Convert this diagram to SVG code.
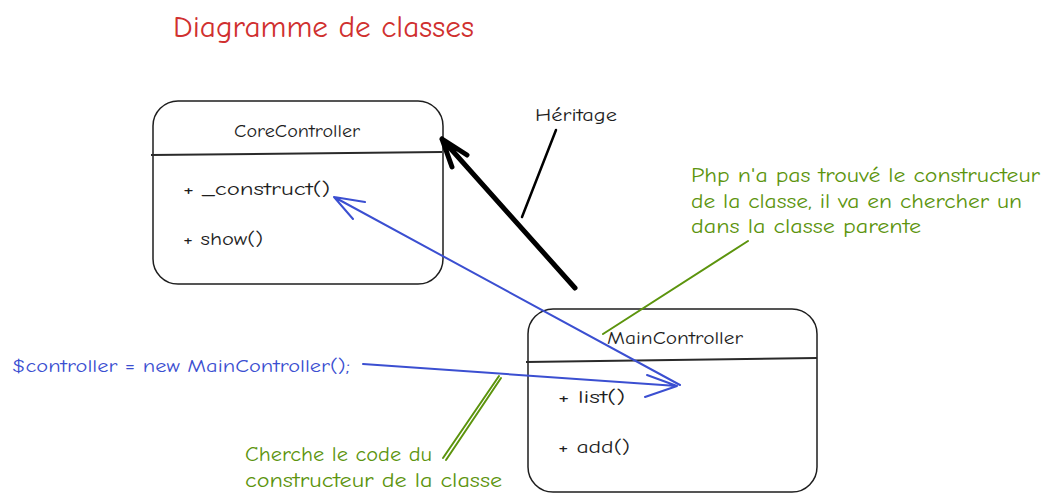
<svg xmlns="http://www.w3.org/2000/svg" width="1052" height="501" viewBox="0 0 1052 501">
<style>
.box{fill:#fff;stroke:#1e1e1e;stroke-width:1.5}
.div{stroke:#2a2a2a;stroke-width:2}
.t{font-family:"Comic Neue","Liberation Sans",sans-serif;fill:#1e1e1e;font-size:19px}
.blue{fill:#3b4fd1}
.green{fill:#5c940d;font-size:20px}
.red{fill:#d0302f;font-size:30px}
.lb{stroke:#3b4fd1;stroke-width:2;fill:none;stroke-linecap:round}
.lg{stroke:#5c940d;stroke-width:2;fill:none;stroke-linecap:round}
.lk{stroke:#000;fill:none;stroke-linecap:round;stroke-linejoin:round}
</style>
<rect width="1052" height="501" fill="#fff"/>
<text class="t red" x="173" y="37" textLength="301" lengthAdjust="spacingAndGlyphs">Diagramme de classes</text>
<g id="CoreController">
<rect class="box" x="153" y="101" width="290" height="183" rx="25"/>
<line class="div" x1="151" y1="155" x2="442" y2="152"/>
<text class="t" x="234" y="137" textLength="126" lengthAdjust="spacingAndGlyphs">CoreController</text>
<text class="t" x="183" y="195" textLength="147" lengthAdjust="spacingAndGlyphs">+ _construct()</text>
<text class="t" x="183" y="245" textLength="80" lengthAdjust="spacingAndGlyphs">+ show()</text>
</g>
<g id="MainController">
<rect class="box" x="528" y="309" width="289" height="183" rx="25"/>
<line class="div" x1="526" y1="362" x2="817" y2="358"/>
<text class="t" x="607" y="344" textLength="136" lengthAdjust="spacingAndGlyphs">MainController</text>
<text class="t" x="558" y="403" textLength="67" lengthAdjust="spacingAndGlyphs">+ list()</text>
<text class="t" x="558" y="453" textLength="72" lengthAdjust="spacingAndGlyphs">+ add()</text>
</g>
<g id="heritage-label">
<text class="t" x="535" y="121" textLength="82" lengthAdjust="spacingAndGlyphs">Héritage</text>
</g>
<g id="code-label">
<text class="t blue" x="12" y="372" font-size="20" textLength="338" lengthAdjust="spacingAndGlyphs">$controller = new MainController();</text>
</g>
<g id="note-php">
<text class="t green" x="691" y="182" textLength="349" lengthAdjust="spacingAndGlyphs">Php n'a pas trouvé le constructeur</text>
<text class="t green" x="691" y="208" textLength="331" lengthAdjust="spacingAndGlyphs">de la classe, il va en chercher un</text>
<text class="t green" x="691" y="233" textLength="230" lengthAdjust="spacingAndGlyphs">dans la classe parente</text>
</g>
<g id="note-cherche">
<text class="t green" x="245" y="461" textLength="187" lengthAdjust="spacingAndGlyphs">Cherche le code du</text>
<text class="t green" x="245" y="487" textLength="257" lengthAdjust="spacingAndGlyphs">constructeur de la classe</text>
</g>
<g id="connectors">
<path class="lk" stroke-width="5" d="M575 288 L442 139 M442 139 L467 155 M442 139 L452 167"/>
<path class="lk" stroke-width="2.5" d="M522 217 L556 130"/>
<path class="lb" d="M680 385 L334 197 M334 197 L365 202 M334 197 L353 219"/>
<path class="lb" d="M363 364 L677 386 M677 386 L647 375 M677 386 L645 397"/>
<path class="lg" d="M603 334 L748 241"/>
<path class="lg" d="M443 458 L499 376 M446 460 L501 378" stroke-width="1.5"/>
</g>
</svg>
